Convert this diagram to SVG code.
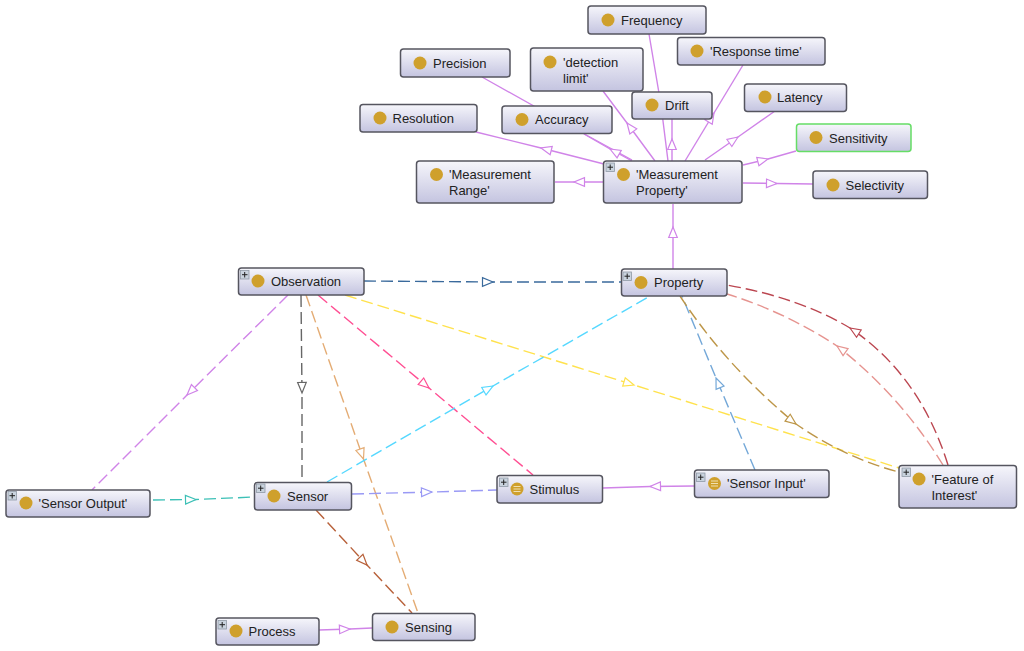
<svg xmlns="http://www.w3.org/2000/svg" width="1024" height="651" viewBox="0 0 1024 651">
<defs>
<linearGradient id="g" x1="0" y1="0" x2="0" y2="1"><stop offset="0" stop-color="#f6f6fb"/><stop offset="1" stop-color="#c4c4e0"/></linearGradient>
<marker id="aP" markerUnits="userSpaceOnUse" viewBox="-12 -7 14 14" refX="0" refY="0" markerWidth="14" markerHeight="14" orient="auto"><path d="M0 0L-10.500 -4.300L-10.500 4.300Z" fill="#fff" stroke="#d084e8" stroke-width="1.200"/></marker>
<marker id="aN" markerUnits="userSpaceOnUse" viewBox="-12 -7 14 14" refX="0" refY="0" markerWidth="14" markerHeight="14" orient="auto"><path d="M0 0L-10.500 -4.300L-10.500 4.300Z" fill="#fff" stroke="#3a6a9c" stroke-width="1.200"/></marker>
<marker id="aG" markerUnits="userSpaceOnUse" viewBox="-12 -7 14 14" refX="0" refY="0" markerWidth="14" markerHeight="14" orient="auto"><path d="M0 0L-10.500 -4.300L-10.500 4.300Z" fill="#fff" stroke="#666" stroke-width="1.200"/></marker>
<marker id="aO" markerUnits="userSpaceOnUse" viewBox="-12 -7 14 14" refX="0" refY="0" markerWidth="14" markerHeight="14" orient="auto"><path d="M0 0L-10.500 -4.300L-10.500 4.300Z" fill="#fff" stroke="#e4ac74" stroke-width="1.200"/></marker>
<marker id="aK" markerUnits="userSpaceOnUse" viewBox="-12 -7 14 14" refX="0" refY="0" markerWidth="14" markerHeight="14" orient="auto"><path d="M0 0L-10.500 -4.300L-10.500 4.300Z" fill="#fff" stroke="#ff4f93" stroke-width="1.200"/></marker>
<marker id="aY" markerUnits="userSpaceOnUse" viewBox="-12 -7 14 14" refX="0" refY="0" markerWidth="14" markerHeight="14" orient="auto"><path d="M0 0L-10.500 -4.300L-10.500 4.300Z" fill="#fff" stroke="#ffe24d" stroke-width="1.200"/></marker>
<marker id="aC" markerUnits="userSpaceOnUse" viewBox="-12 -7 14 14" refX="0" refY="0" markerWidth="14" markerHeight="14" orient="auto"><path d="M0 0L-10.500 -4.300L-10.500 4.300Z" fill="#fff" stroke="#55d8ff" stroke-width="1.200"/></marker>
<marker id="aB" markerUnits="userSpaceOnUse" viewBox="-12 -7 14 14" refX="0" refY="0" markerWidth="14" markerHeight="14" orient="auto"><path d="M0 0L-10.500 -4.300L-10.500 4.300Z" fill="#fff" stroke="#74a8d8" stroke-width="1.200"/></marker>
<marker id="aT" markerUnits="userSpaceOnUse" viewBox="-12 -7 14 14" refX="0" refY="0" markerWidth="14" markerHeight="14" orient="auto"><path d="M0 0L-10.500 -4.300L-10.500 4.300Z" fill="#fff" stroke="#3cc0b6" stroke-width="1.200"/></marker>
<marker id="aV" markerUnits="userSpaceOnUse" viewBox="-12 -7 14 14" refX="0" refY="0" markerWidth="14" markerHeight="14" orient="auto"><path d="M0 0L-10.500 -4.300L-10.500 4.300Z" fill="#fff" stroke="#9a9af5" stroke-width="1.200"/></marker>
<marker id="aR" markerUnits="userSpaceOnUse" viewBox="-12 -7 14 14" refX="0" refY="0" markerWidth="14" markerHeight="14" orient="auto"><path d="M0 0L-10.500 -4.300L-10.500 4.300Z" fill="#fff" stroke="#b8613a" stroke-width="1.200"/></marker>
<marker id="aW" markerUnits="userSpaceOnUse" viewBox="-12 -7 14 14" refX="0" refY="0" markerWidth="14" markerHeight="14" orient="auto"><path d="M0 0L-10.500 -4.300L-10.500 4.300Z" fill="#fff" stroke="#bd9648" stroke-width="1.200"/></marker>
<marker id="aD" markerUnits="userSpaceOnUse" viewBox="-12 -7 14 14" refX="0" refY="0" markerWidth="14" markerHeight="14" orient="auto"><path d="M0 0L-10.500 -4.300L-10.500 4.300Z" fill="#fff" stroke="#bb4650" stroke-width="1.200"/></marker>
<marker id="aL" markerUnits="userSpaceOnUse" viewBox="-12 -7 14 14" refX="0" refY="0" markerWidth="14" markerHeight="14" orient="auto"><path d="M0 0L-10.500 -4.300L-10.500 4.300Z" fill="#fff" stroke="#e69490" stroke-width="1.200"/></marker>
</defs>
<style>
.n{fill:url(#g);stroke:#55555f;stroke-width:1.500}
.h{fill:url(#g);stroke:#66dd66;stroke-width:1.500}
.c{fill:#cfa02c}
.t{font-family:"Liberation Sans",Arial,sans-serif;font-size:13px;fill:#222}
.p{fill:#c9d3de;stroke:#8f9aa6;stroke-width:.8}
.x{stroke:#222;stroke-width:1;fill:none}
.l{stroke:#f0e0b0;stroke-width:1;fill:none}
#connectors path{fill:none;stroke-width:1.400}
.s{stroke:#d084e8;marker-mid:url(#aP)}
.d{stroke-dasharray:12 5}
</style>
<rect width="1024" height="651" fill="#fff"/>
<g id="connectors">
<path class="s" d="M668 161L661 105L649 34"/>
<path class="s" d="M632 160L557 119L482 77"/>
<path class="s" d="M604 164L541 148L476 132"/>
<path class="s" d="M632 161L610 149L584 134"/>
<path class="s" d="M603 182L574 182L555 182"/>
<path class="s" d="M655 161L627 123L603 91"/>
<path class="s" d="M672 161L672 139L672 119"/>
<path class="s" d="M685 161L714 113L743 65"/>
<path class="s" d="M705 160L738 137L775 111"/>
<path class="s" d="M743 165L768 159L796 151"/>
<path class="s" d="M743 183L777 183.500L813 184"/>
<path class="s" d="M673 269L673 227L673 204"/>
<path class="d" stroke="#3a6a9c" marker-mid="url(#aN)" d="M364 281L493 282L621 282"/>
<path class="d" stroke="#d084e8" marker-mid="url(#aP)" d="M288 295L187 395L92 490"/>
<path class="d" stroke="#666" marker-mid="url(#aG)" d="M301 295L302 393L302 482"/>
<path class="d" stroke="#e4ac74" marker-mid="url(#aO)" d="M306 295L363.500 459L418 613"/>
<path class="d" stroke="#ff4f93" marker-mid="url(#aK)" d="M318 295L429 388L533 475"/>
<path class="d" stroke="#ffe24d" marker-mid="url(#aY)" d="M345 295L634 385L899 468"/>
<path class="d" stroke="#55d8ff" marker-mid="url(#aC)" d="M327 482L493 386L650 296"/>
<path class="d" stroke="#74a8d8" marker-mid="url(#aB)" d="M755 470L716 378L682 296"/>
<path class="d" stroke="#bd9648" marker-mid="url(#aW)" d="M680 296Q725 365 796 424Q845 458 899 472"/>
<path class="d" stroke="#bb4650" marker-mid="url(#aD)" d="M948 465Q920 375 850 328Q800 298 727 285"/>
<path class="d" stroke="#e69490" marker-mid="url(#aL)" d="M943 465Q900 395 837 346Q785 312 727 294"/>
<path class="d" stroke="#3cc0b6" marker-mid="url(#aT)" d="M153 500L196 499.500L254 497"/>
<path class="d" stroke="#9a9af5" marker-mid="url(#aV)" d="M352 494L432 492L497 490"/>
<path class="d" stroke="#b8613a" marker-mid="url(#aR)" d="M316 510L367 565L412 613"/>
<path class="s" d="M319 630L350 629L372 628"/>
<path class="s" d="M694 486L650 486.500L603 488"/>
</g>
<g id="frequency"><rect class="n" x="588" y="6" width="118" height="28" rx="3"/><circle class="c" cx="608" cy="20" r="6.500"/><text class="t" x="621" y="24.500">Frequency</text></g>
<g id="precision"><rect class="n" x="400.500" y="49" width="109.500" height="28" rx="3"/><circle class="c" cx="420" cy="63" r="6.500"/><text class="t" x="433" y="67.500">Precision</text></g>
<g id="detection-limit"><rect class="n" x="530.500" y="48" width="112.500" height="43" rx="3"/><circle class="c" cx="550" cy="62" r="6.500"/><text class="t" x="563" y="67">'detection</text><text class="t" x="563" y="83">limit'</text></g>
<g id="response-time"><rect class="n" x="677.500" y="37.500" width="147.500" height="27.500" rx="3"/><circle class="c" cx="697" cy="51" r="6.500"/><text class="t" x="710" y="55.500">'Response time'</text></g>
<g id="drift"><rect class="n" x="632" y="92" width="80" height="27" rx="3"/><circle class="c" cx="652" cy="105" r="6.500"/><text class="t" x="665" y="110">Drift</text></g>
<g id="latency"><rect class="n" x="744.500" y="84" width="102" height="27.500" rx="3"/><circle class="c" cx="765" cy="97" r="6.500"/><text class="t" x="777" y="102">Latency</text></g>
<g id="accuracy"><rect class="n" x="502" y="106" width="110" height="27.500" rx="3"/><circle class="c" cx="522" cy="119.500" r="6.500"/><text class="t" x="535" y="124">Accuracy</text></g>
<g id="resolution"><rect class="n" x="360" y="104.500" width="117" height="27.500" rx="3"/><circle class="c" cx="380" cy="118" r="6.500"/><text class="t" x="392.500" y="123">Resolution</text></g>
<g id="sensitivity"><rect class="h" x="796.500" y="124" width="114.500" height="27.500" rx="3"/><circle class="c" cx="816" cy="137.500" r="6.500"/><text class="t" x="829" y="142.500">Sensitivity</text></g>
<g id="measurement-range"><rect class="n" x="416.500" y="161" width="137.500" height="42" rx="3"/><circle class="c" cx="436.500" cy="174.500" r="6.500"/><text class="t" x="449" y="179">'Measurement</text><text class="t" x="449" y="195">Range'</text></g>
<g id="measurement-property"><rect class="n" x="603.500" y="161" width="138.500" height="42" rx="3"/><rect class="p" x="606" y="163" width="8.500" height="8.500"/><path class="x" d="M607.500 167.200H613M610.200 164.500V170"/><circle class="c" cx="623.500" cy="174.500" r="6.500"/><text class="t" x="636" y="179">'Measurement</text><text class="t" x="636" y="195">Property'</text></g>
<g id="selectivity"><rect class="n" x="813" y="171" width="114.500" height="27.500" rx="3"/><circle class="c" cx="833" cy="185" r="6.500"/><text class="t" x="845.500" y="190">Selectivity</text></g>
<g id="observation"><rect class="n" x="238.500" y="268" width="125.500" height="27" rx="3"/><rect class="p" x="240.500" y="270.500" width="8.500" height="8.500"/><path class="x" d="M242 274.700H247.500M244.700 272V277.500"/><circle class="c" cx="258" cy="281" r="6.500"/><text class="t" x="271" y="285.500">Observation</text></g>
<g id="property"><rect class="n" x="621.500" y="269" width="105.500" height="27" rx="3"/><rect class="p" x="623" y="272" width="8.500" height="8.500"/><path class="x" d="M624.500 276.200H630M627.200 273.500V279"/><circle class="c" cx="641" cy="282.500" r="6.500"/><text class="t" x="654" y="287">Property</text></g>
<g id="sensor-output"><rect class="n" x="6" y="490" width="144" height="27" rx="3"/><rect class="p" x="8" y="491.500" width="8.500" height="8.500"/><path class="x" d="M9.500 495.700H15M12.200 493V498.500"/><circle class="c" cx="26" cy="503" r="6.500"/><text class="t" x="38.500" y="508">'Sensor Output'</text></g>
<g id="sensor"><rect class="n" x="254.500" y="482.500" width="97" height="27.500" rx="3"/><rect class="p" x="256.500" y="484" width="8.500" height="8.500"/><path class="x" d="M258 488.200H263.500M260.700 485.500V491"/><circle class="c" cx="274" cy="496" r="6.500"/><text class="t" x="287" y="500.500">Sensor</text></g>
<g id="stimulus"><rect class="n" x="497" y="475.500" width="105.500" height="27.500" rx="3"/><rect class="p" x="499.500" y="478" width="8.500" height="8.500"/><path class="x" d="M501 482.200H506.500M503.700 479.500V485"/><circle class="c" cx="517" cy="489" r="6.500"/><path class="l" d="M513.500 486.500H520.500M513.500 489H520.500M513.500 491.500H520.500"/><text class="t" x="529.500" y="494">Stimulus</text></g>
<g id="sensor-input"><rect class="n" x="694.500" y="470" width="134.500" height="27.500" rx="3"/><rect class="p" x="696.500" y="473" width="8.500" height="8.500"/><path class="x" d="M698 477.200H703.500M700.700 474.500V480"/><circle class="c" cx="714.500" cy="483.500" r="6.500"/><path class="l" d="M711 481H718M711 483.500H718M711 486H718"/><text class="t" x="727" y="488">'Sensor Input'</text></g>
<g id="feature-of-interest"><rect class="n" x="899" y="465.500" width="117.500" height="42.500" rx="3"/><rect class="p" x="902" y="468" width="8.500" height="8.500"/><path class="x" d="M903.500 472.200H909M906.200 469.500V475"/><circle class="c" cx="919" cy="479" r="6.500"/><text class="t" x="931.500" y="483.500">'Feature of</text><text class="t" x="931.500" y="500">Interest'</text></g>
<g id="process"><rect class="n" x="216" y="618" width="103" height="27" rx="3"/><rect class="p" x="218" y="620.500" width="8.500" height="8.500"/><path class="x" d="M219.500 624.700H225M222.200 622V627.500"/><circle class="c" cx="236" cy="631" r="6.500"/><text class="t" x="248.500" y="636">Process</text></g>
<g id="sensing"><rect class="n" x="372.500" y="613.500" width="102.500" height="27" rx="3"/><circle class="c" cx="392" cy="627" r="6.500"/><text class="t" x="405" y="632">Sensing</text></g>
</svg>
